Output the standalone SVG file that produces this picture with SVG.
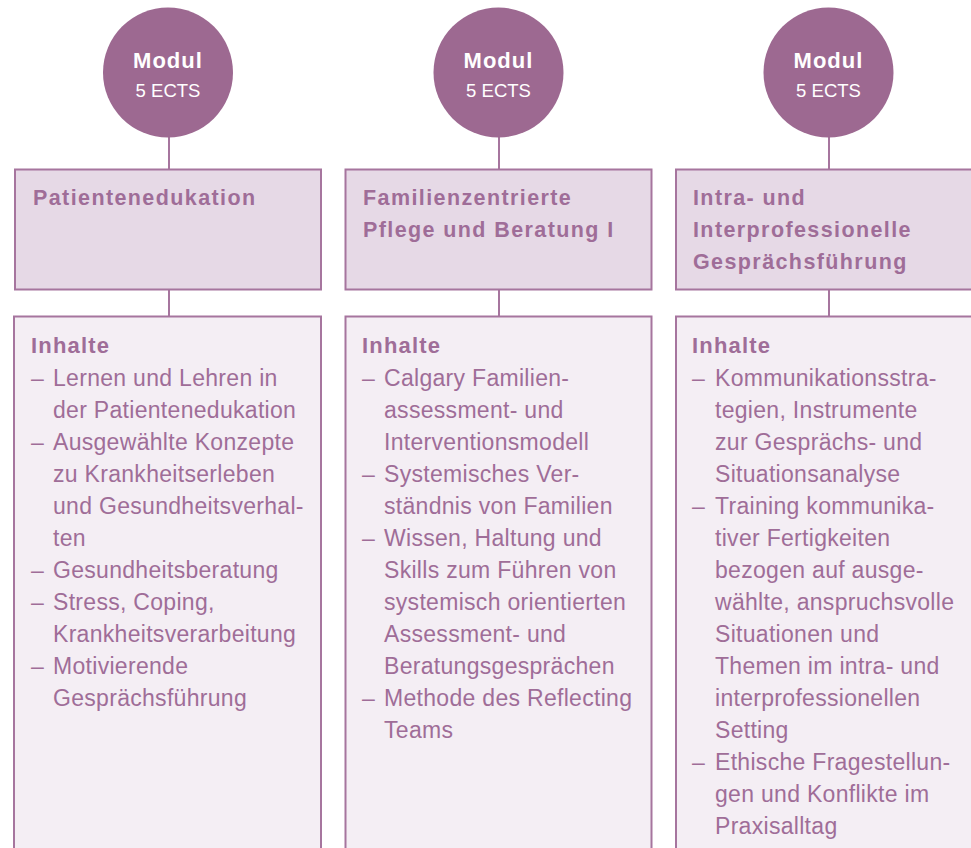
<svg xmlns="http://www.w3.org/2000/svg" width="971" height="848" viewBox="0 0 971 848">
<style>
.circ{fill:#9d6991}
.tbox{fill:#e6d9e6;stroke:#a6759e;stroke-width:2}
.cbox{fill:#f4eef4;stroke:#a6759e;stroke-width:2}
.conn{stroke:#a6759e;stroke-width:2;fill:none}
.mod{font-family:"Liberation Sans",Arial,sans-serif;font-weight:bold;font-size:22px;fill:#ffffff;letter-spacing:1px;text-anchor:middle}
.ects{font-family:"Liberation Sans",Arial,sans-serif;font-size:18.5px;fill:#ffffff;text-anchor:middle}
.ttl{font-family:"Liberation Sans",Arial,sans-serif;font-weight:bold;font-size:21.5px;fill:#9f6d98;letter-spacing:1.4px}
.hd{font-family:"Liberation Sans",Arial,sans-serif;font-weight:bold;font-size:22px;fill:#9f6d98;letter-spacing:1.2px}
.it{font-family:"Liberation Sans",Arial,sans-serif;font-size:23px;fill:#9f6d98;letter-spacing:0.3px}
</style>
<rect width="971" height="848" fill="#ffffff"/>
<g id="connectors">
<line class="conn" x1="169" y1="137" x2="169" y2="169"/>
<line class="conn" x1="169" y1="290" x2="169" y2="316"/>
<line class="conn" x1="499" y1="137" x2="499" y2="169"/>
<line class="conn" x1="499" y1="290" x2="499" y2="316"/>
<line class="conn" x1="829" y1="137" x2="829" y2="169"/>
<line class="conn" x1="829" y1="290" x2="829" y2="316"/>
</g>
<g id="modul1">
<circle class="circ" cx="168" cy="72.5" r="65"/>
<text class="mod" x="168" y="68">Modul</text>
<text class="ects" x="168" y="97">5 ECTS</text>
</g>
<g id="modul2">
<circle class="circ" cx="498.5" cy="72.5" r="65"/>
<text class="mod" x="498.5" y="68">Modul</text>
<text class="ects" x="498.5" y="97">5 ECTS</text>
</g>
<g id="modul3">
<circle class="circ" cx="828.5" cy="72.5" r="65"/>
<text class="mod" x="828.5" y="68">Modul</text>
<text class="ects" x="828.5" y="97">5 ECTS</text>
</g>
<g id="titel1">
<rect class="tbox" x="15" y="169.5" width="306" height="120"/>
<text class="ttl" x="33" y="205">Patientenedukation</text>
</g>
<g id="titel2">
<rect class="tbox" x="345.5" y="169.5" width="306" height="120"/>
<text class="ttl" x="363" y="205">Familienzentrierte</text>
<text class="ttl" x="363" y="237">Pflege und Beratung I</text>
</g>
<g id="titel3">
<rect class="tbox" x="676" y="169.5" width="306" height="120"/>
<text class="ttl" x="693" y="205">Intra- und</text>
<text class="ttl" x="693" y="237">Interprofessionelle</text>
<text class="ttl" x="693" y="269">Gesprächsführung</text>
</g>
<g id="inhalte1">
<rect class="cbox" x="14" y="316.5" width="307" height="560"/>
<text class="hd" x="31" y="353">Inhalte</text>
<g class="it">
<text x="31" y="386">–</text><text x="53" y="386">Lernen und Lehren in</text>
<text x="53" y="418">der Patientenedukation</text>
<text x="31" y="450">–</text><text x="53" y="450">Ausgewählte Konzepte</text>
<text x="53" y="482">zu Krankheitserleben</text>
<text x="53" y="514">und Gesundheitsverhal-</text>
<text x="53" y="546">ten</text>
<text x="31" y="578">–</text><text x="53" y="578">Gesundheitsberatung</text>
<text x="31" y="610">–</text><text x="53" y="610">Stress, Coping,</text>
<text x="53" y="642">Krankheitsverarbeitung</text>
<text x="31" y="674">–</text><text x="53" y="674">Motivierende</text>
<text x="53" y="706">Gesprächsführung</text>
</g>
</g>
<g id="inhalte2">
<rect class="cbox" x="345.5" y="316.5" width="306" height="560"/>
<text class="hd" x="362" y="353">Inhalte</text>
<g class="it">
<text x="362" y="386">–</text><text x="384" y="386">Calgary Familien-</text>
<text x="384" y="418">assessment- und</text>
<text x="384" y="450">Interventionsmodell</text>
<text x="362" y="482">–</text><text x="384" y="482">Systemisches Ver-</text>
<text x="384" y="514">ständnis von Familien</text>
<text x="362" y="546">–</text><text x="384" y="546">Wissen, Haltung und</text>
<text x="384" y="578">Skills zum Führen von</text>
<text x="384" y="610">systemisch orientierten</text>
<text x="384" y="642">Assessment- und</text>
<text x="384" y="674">Beratungsgesprächen</text>
<text x="362" y="706">–</text><text x="384" y="706">Methode des Reflecting</text>
<text x="384" y="738">Teams</text>
</g>
</g>
<g id="inhalte3">
<rect class="cbox" x="676" y="316.5" width="306" height="560"/>
<text class="hd" x="692" y="353">Inhalte</text>
<g class="it">
<text x="692" y="386">–</text><text x="715" y="386">Kommunikationsstra-</text>
<text x="715" y="418">tegien, Instrumente</text>
<text x="715" y="450">zur Gesprächs- und</text>
<text x="715" y="482">Situationsanalyse</text>
<text x="692" y="514">–</text><text x="715" y="514">Training kommunika-</text>
<text x="715" y="546">tiver Fertigkeiten</text>
<text x="715" y="578">bezogen auf ausge-</text>
<text x="715" y="610">wählte, anspruchsvolle</text>
<text x="715" y="642">Situationen und</text>
<text x="715" y="674">Themen im intra- und</text>
<text x="715" y="706">interprofessionellen</text>
<text x="715" y="738">Setting</text>
<text x="692" y="770">–</text><text x="715" y="770">Ethische Fragestellun-</text>
<text x="715" y="802">gen und Konflikte im</text>
<text x="715" y="834">Praxisalltag</text>
</g>
</g>
</svg>
